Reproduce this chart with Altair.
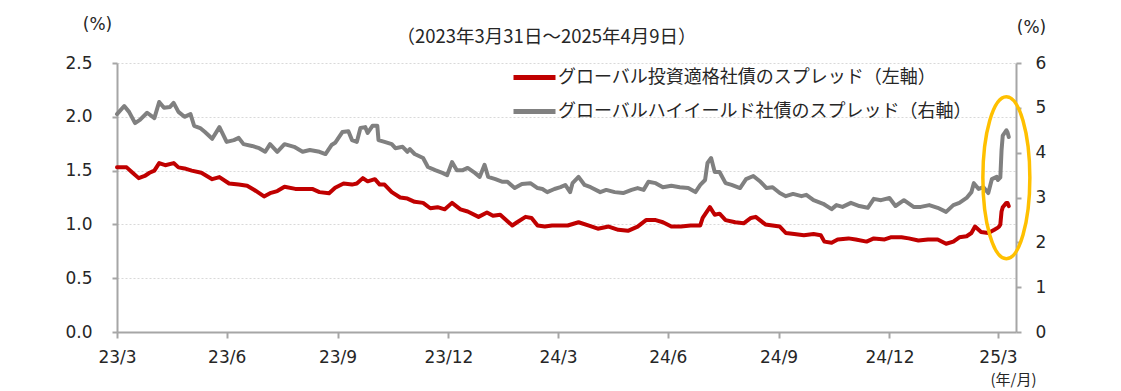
import altair as alt
import pandas as pd

IG_NAME = "グローバル投資適格社債のスプレッド（左軸）"
HY_NAME = "グローバルハイイールド社債のスプレッド（右軸）"
TITLE = "（2023年3月31日～2025年4月9日）"

ig_dates = [
    "2023-03-31", "2023-04-08", "2023-04-12", "2023-04-18", "2023-04-23", "2023-04-27",
    "2023-05-01", "2023-05-05", "2023-05-10", "2023-05-17", "2023-05-21", "2023-05-26",
    "2023-06-01", "2023-06-09", "2023-06-18", "2023-06-24", "2023-07-02", "2023-07-10",
    "2023-07-17", "2023-07-23", "2023-07-31", "2023-08-05", "2023-08-11", "2023-08-17",
    "2023-08-26", "2023-09-02", "2023-09-09", "2023-09-15", "2023-09-23", "2023-09-28",
    "2023-10-05", "2023-10-12", "2023-10-16", "2023-10-21", "2023-10-25", "2023-10-31",
    "2023-11-04", "2023-11-08", "2023-11-14", "2023-11-21", "2023-11-27",
    "2023-12-03", "2023-12-10", "2023-12-16", "2023-12-22", "2023-12-28",
    "2024-01-03", "2024-01-10", "2024-01-16", "2024-01-25",
    "2024-02-01", "2024-02-06", "2024-02-12", "2024-02-18", "2024-02-22", "2024-02-26",
    "2024-03-04", "2024-03-09", "2024-03-14", "2024-03-20", "2024-03-26",
    "2024-04-02", "2024-04-08", "2024-04-17", "2024-04-25",
    "2024-05-03", "2024-05-12", "2024-05-20", "2024-05-28",
    "2024-06-05", "2024-06-12", "2024-06-20", "2024-06-26",
    "2024-07-03", "2024-07-11", "2024-07-19", "2024-07-27", "2024-07-29",
    "2024-08-04", "2024-08-08", "2024-08-12", "2024-08-17", "2024-08-25",
    "2024-09-01", "2024-09-07", "2024-09-11", "2024-09-19", "2024-09-25", "2024-10-01",
    "2024-10-06", "2024-10-13", "2024-10-21", "2024-10-29",
    "2024-11-04", "2024-11-07", "2024-11-13", "2024-11-18", "2024-11-27",
    "2024-12-03", "2024-12-12", "2024-12-18", "2024-12-27",
    "2025-01-01", "2025-01-10", "2025-01-16", "2025-01-24",
    "2025-02-01", "2025-02-09", "2025-02-16", "2025-02-22", "2025-02-27",
    "2025-03-05", "2025-03-09", "2025-03-12", "2025-03-17", "2025-03-23", "2025-03-28", "2025-03-31",
    "2025-04-01", "2025-04-02", "2025-04-03", "2025-04-04", "2025-04-07", "2025-04-08", "2025-04-09",
]
ig_values = [
    1.53, 1.53, 1.49, 1.43, 1.45, 1.48,
    1.50, 1.57, 1.55, 1.57, 1.53, 1.52,
    1.50, 1.48, 1.42, 1.44, 1.38, 1.37,
    1.36, 1.32, 1.26, 1.29, 1.31, 1.35,
    1.33, 1.33, 1.33, 1.30, 1.29, 1.34,
    1.38, 1.37, 1.38, 1.43, 1.40, 1.42,
    1.37, 1.37, 1.30, 1.25, 1.24,
    1.21, 1.20, 1.15, 1.16, 1.14,
    1.20, 1.14, 1.12, 1.07,
    1.11, 1.08, 1.09, 1.03, 0.99, 1.02,
    1.07, 1.06, 0.99, 0.98, 0.99,
    0.99, 0.99, 1.02, 0.99,
    0.96, 0.98, 0.95, 0.94,
    0.98, 1.04, 1.04, 1.02,
    0.98, 0.98, 0.99, 0.99, 1.06,
    1.16, 1.09, 1.10, 1.04, 1.02,
    1.01, 1.06, 1.07, 1.00, 0.99, 0.98,
    0.92, 0.91, 0.90, 0.91,
    0.90, 0.84, 0.83, 0.86, 0.87,
    0.86, 0.84, 0.87, 0.86,
    0.88, 0.88, 0.87, 0.85,
    0.86, 0.86, 0.82, 0.84, 0.88,
    0.89, 0.92, 0.98, 0.93, 0.92, 0.95, 0.97,
    0.98, 1.00, 1.12, 1.16, 1.20, 1.20, 1.17,
]

hy_dates = [
    "2023-03-31", "2023-04-06", "2023-04-10", "2023-04-15", "2023-04-19", "2023-04-25",
    "2023-05-01", "2023-05-05", "2023-05-09", "2023-05-14", "2023-05-17", "2023-05-21",
    "2023-05-26", "2023-05-31", "2023-06-03", "2023-06-08", "2023-06-12", "2023-06-18",
    "2023-06-24", "2023-06-30", "2023-07-06", "2023-07-10", "2023-07-14", "2023-07-21",
    "2023-07-27", "2023-08-01", "2023-08-05", "2023-08-11", "2023-08-17", "2023-08-25",
    "2023-09-01", "2023-09-07", "2023-09-15", "2023-09-20", "2023-09-25", "2023-09-28",
    "2023-10-04", "2023-10-09", "2023-10-12", "2023-10-16", "2023-10-19", "2023-10-23",
    "2023-10-25", "2023-10-29", "2023-11-02", "2023-11-03", "2023-11-08", "2023-11-14",
    "2023-11-17", "2023-11-23", "2023-11-27", "2023-11-29", "2023-12-03", "2023-12-10",
    "2023-12-14", "2023-12-20", "2023-12-26", "2023-12-30", "2024-01-03", "2024-01-07",
    "2024-01-12", "2024-01-16", "2024-01-22", "2024-01-26", "2024-01-30", "2024-02-02",
    "2024-02-08", "2024-02-14", "2024-02-18", "2024-02-24", "2024-03-01", "2024-03-08",
    "2024-03-14", "2024-03-18", "2024-03-22", "2024-03-28",
    "2024-04-02", "2024-04-06", "2024-04-10", "2024-04-12", "2024-04-17", "2024-04-22",
    "2024-04-27", "2024-05-05", "2024-05-10", "2024-05-17", "2024-05-24", "2024-05-31",
    "2024-06-05", "2024-06-10", "2024-06-14", "2024-06-20", "2024-06-26", "2024-07-03",
    "2024-07-10", "2024-07-17", "2024-07-23", "2024-07-27", "2024-07-31", "2024-08-02",
    "2024-08-05", "2024-08-08", "2024-08-12", "2024-08-17", "2024-08-22", "2024-08-29",
    "2024-09-03", "2024-09-09", "2024-09-15", "2024-09-20", "2024-09-25", "2024-10-01",
    "2024-10-06", "2024-10-12", "2024-10-19", "2024-10-23", "2024-10-29", "2024-11-06",
    "2024-11-13", "2024-11-17", "2024-11-22", "2024-11-29", "2024-12-06", "2024-12-13",
    "2024-12-18", "2024-12-24", "2024-12-31", "2025-01-05", "2025-01-12", "2025-01-20",
    "2025-01-26", "2025-02-02", "2025-02-09", "2025-02-16", "2025-02-22", "2025-02-27",
    "2025-03-05", "2025-03-09", "2025-03-11", "2025-03-15", "2025-03-19", "2025-03-23",
    "2025-03-26", "2025-03-30", "2025-03-31", "2025-04-01", "2025-04-02", "2025-04-03",
    "2025-04-04", "2025-04-07", "2025-04-08", "2025-04-09",
]
hy_values = [
    4.86, 5.04, 4.91, 4.66, 4.73, 4.89,
    4.77, 5.13, 5.00, 5.02, 5.11, 4.91,
    4.80, 4.86, 4.60, 4.55, 4.46, 4.31,
    4.57, 4.24, 4.28, 4.33, 4.19, 4.15,
    4.10, 4.02, 4.19, 4.02, 4.19, 4.13,
    4.02, 4.06, 4.02, 3.97, 4.17, 4.22,
    4.46, 4.48, 4.28, 4.24, 4.55, 4.57,
    4.44, 4.60, 4.60, 4.28, 4.24, 4.19,
    4.10, 4.13, 4.02, 4.08, 3.97, 3.88,
    3.68, 3.61, 3.55, 3.50, 3.79, 3.61,
    3.61, 3.66, 3.55, 3.46, 3.73, 3.46,
    3.41, 3.35, 3.35, 3.21, 3.30, 3.32,
    3.21, 3.19, 3.12, 3.19,
    3.23, 3.28, 3.12, 3.32, 3.46, 3.28,
    3.23, 3.12, 3.17, 3.12, 3.10, 3.17,
    3.21, 3.17, 3.35, 3.32, 3.23, 3.26,
    3.23, 3.21, 3.12, 3.28, 3.39, 3.77,
    3.88, 3.57, 3.57, 3.32, 3.28, 3.21,
    3.41, 3.48, 3.35, 3.21, 3.23, 3.10,
    3.03, 3.08, 3.03, 3.06, 2.94, 2.86,
    2.74, 2.83, 2.79, 2.88, 2.81, 2.77,
    2.97, 2.94, 2.99, 2.81, 2.94, 2.79,
    2.79, 2.83, 2.77, 2.68, 2.83, 2.88,
    2.99, 3.12, 3.32, 3.19, 3.23, 3.10,
    3.41, 3.46, 3.39, 3.42, 3.45, 4.05,
    4.38, 4.50, 4.45, 4.35,
]

tick_dates = ["2023-03-31", "2023-06-30", "2023-09-30", "2023-12-31", "2024-03-31",
              "2024-06-30", "2024-09-30", "2024-12-31", "2025-03-31"]
x_start = "2023-03-31"
x_end = "2025-04-15"
ig_ticks = [0, 0.5, 1.0, 1.5, 2.0, 2.5]
hy_ticks = [0, 1, 2, 3, 4, 5, 6]

highlight_dates = ["2025-04-07"]
highlight_hy = [3.44]
ELLIPSE = "M0,-1A0.29,1,0,1,1,0,1A0.29,1,0,1,1,0,-1Z"


def dt(s):
    y, m, d = (int(p) for p in s.split("-"))
    return alt.DateTime(year=y, month=m, date=d, utc=True)


ig_df = pd.DataFrame({"date": ig_dates, "value": ig_values, "series": IG_NAME})
hy_df = pd.DataFrame({"date": hy_dates, "hy": hy_values, "series": HY_NAME})
hl_df = pd.DataFrame({"date": highlight_dates, "hy": highlight_hy})

NUM_FONT = "DejaVu Sans"
JP_FONT = "Noto Sans CJK JP"
TXT = "#262626"
AX = "#a6a6a6"

x_enc = alt.X(
    "date:T",
    scale=alt.Scale(type="utc", domain=[dt(x_start), dt(x_end)]),
    axis=alt.Axis(
        values=[dt(s) for s in tick_dates],
        labelExpr="utcFormat(datum.value, '%y/%-m')",
        grid=False, domainColor=AX, domainWidth=2, tickColor=AX, tickWidth=2,
        tickSize=6, labelPadding=11, labelFont=NUM_FONT, labelFontSize=17,
        labelColor=TXT, labelFlush=False, labelOverlap=False,
        title="(年/月)", titleFont=JP_FONT, titleFontSize=15, titleFontWeight="normal",
        titleColor=TXT, titleAngle=0, titleX=896, titleY=47,
        titleAlign="center", titleBaseline="middle",
    ),
)

color_enc = alt.Color(
    "series:N",
    scale=alt.Scale(domain=[IG_NAME, HY_NAME], range=["#c00000", "#808080"]),
    legend=alt.Legend(
        orient="none", legendX=394, legendY=-9, title=None, direction="vertical",
        symbolType="stroke", symbolSize=1764, symbolStrokeWidth=5,
        labelFont=JP_FONT, labelFontSize=18, labelColor=TXT, labelLimit=700,
        rowPadding=-3, labelOffset=0, padding=0,
    ),
)

left_axis = alt.Axis(
    values=ig_ticks, format=".1f", orient="left",
    grid=True, gridColor="#d9d9d9", gridDash=[2, 2], gridWidth=1,
    domainColor=AX, domainWidth=2, tickColor=AX, tickWidth=2, tickSize=5,
    labelPadding=20, labelFont=NUM_FONT, labelFontSize=17, labelColor=TXT,
    title="(%)", titleFont=NUM_FONT, titleFontSize=17, titleFontWeight="normal",
    titleColor=TXT, titleAngle=0, titleX=-20, titleY=-39,
    titleAlign="center", titleBaseline="middle",
)

right_axis = alt.Axis(
    values=hy_ticks, format="d", orient="right", grid=False,
    domainColor=AX, domainWidth=2, tickColor=AX, tickWidth=2, tickSize=5,
    labelPadding=14, labelFont=NUM_FONT, labelFontSize=17, labelColor=TXT,
    title="(%)", titleFont=NUM_FONT, titleFontSize=17, titleFontWeight="normal",
    titleColor=TXT, titleAngle=0, titleX=15, titleY=-36,
    titleAlign="center", titleBaseline="middle",
)

ig_line = alt.Chart(ig_df).mark_line(strokeWidth=4, strokeJoin="round", strokeCap="round").encode(
    x=x_enc,
    y=alt.Y("value:Q", scale=alt.Scale(domain=[0, 2.5], nice=False), axis=left_axis),
    color=color_enc,
)

hy_scale = alt.Scale(domain=[0, 6], nice=False)
hy_line = alt.Chart(hy_df).mark_line(strokeWidth=4, strokeJoin="round", strokeCap="round").encode(
    x=x_enc,
    y=alt.Y("hy:Q", scale=hy_scale, axis=right_axis),
    color=color_enc,
)

ellipse = alt.Chart(hl_df).mark_point(
    shape=ELLIPSE, size=26244, filled=False, stroke="#ffc000", strokeWidth=3.5, opacity=1
).encode(
    x=x_enc,
    y=alt.Y("hy:Q", scale=hy_scale, axis=right_axis),
)

chart = (
    alt.layer(ig_line, alt.layer(hy_line, ellipse))
    .resolve_scale(y="independent")
    .properties(
        width=899,
        height=269,
        title=alt.TitleParams(
            text=TITLE, font=JP_FONT, fontSize=18.5, fontWeight="normal", color=TXT,
            anchor="middle", frame="group", dx=-20, offset=-31,
        ),
        padding={"left": 109, "top": 55, "right": 97, "bottom": 58},
        autosize=alt.AutoSizeParams(type="none"),
    )
    .configure_view(stroke=None)
)

chart.save("out.html", embed_options={"renderer": "svg", "actions": False})
